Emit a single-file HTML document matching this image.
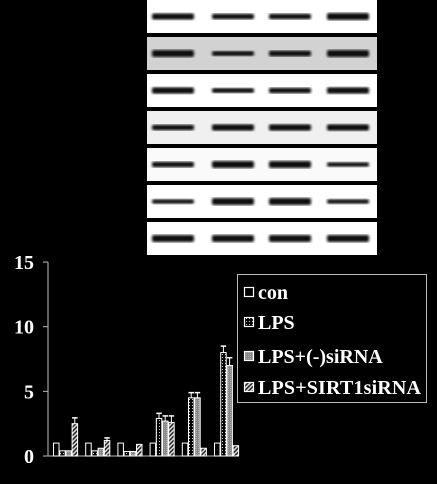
<!DOCTYPE html>
<html><head><meta charset="utf-8"><style>
html,body{margin:0;padding:0;background:#000;width:437px;height:484px;overflow:hidden}
svg{display:block}
text{font-family:"Liberation Serif",serif;font-weight:bold;fill:#fff}
</style></head><body>
<svg id="c" width="437" height="484" xmlns="http://www.w3.org/2000/svg">
<defs>
<pattern id="dots" width="3" height="3" patternUnits="userSpaceOnUse"><rect width="3" height="3" fill="#000"/><rect width="1" height="1" fill="#ccc"/></pattern>
<pattern id="grey" width="2" height="2" patternUnits="userSpaceOnUse"><rect width="2" height="2" fill="#888"/><rect width="1" height="1" fill="#aaa"/></pattern>
<pattern id="hatch" width="3" height="3" patternUnits="userSpaceOnUse" patternTransform="rotate(45)"><rect width="3" height="3" fill="#222"/><rect width="1.5" height="3" fill="#ddd"/></pattern>
<filter id="blur"><feGaussianBlur stdDeviation="1.2"/></filter>
</defs>
<g id="blots"></g>
<g id="chart"></g>
</svg>
<script>
const groups = ['g1','g2','g3','g4','g5','g6'];
const con = [1,1,1,1,1,1];
const lps = [0.4,0.4,0.35,2.9,4.5,8.0];
const negsi = [0.4,0.6,0.35,2.7,4.5,7.0];
const sirtsi = [2.5,1.2,0.9,2.6,0.6,0.8];
const lpsErr = [0,0,0,0.4,0.4,0.5];
const negErr = [0,0,0,0.4,0.4,0.6];
const sirtErr = [0.45,0.2,0,0.5,0,0];
const yTicks = [0,5,10,15];
const seriesNames = ['con','LPS','LPS+(-)siRNA','LPS+SIRT1siRNA'];
const blotBands = [[0.8,0.6,0.6,1],[1,0.5,0.7,1],[0.9,0.5,0.6,0.9],[0.6,0.9,0.9,0.9],[0.6,1,1,0.4],[0.35,1,1,0.35],[1,1,1,1]];
const blotBg = ['#fff','#d2d2d2','#fff','#f0f0f0','#fafafa','#fff','#fff'];

const NS='http://www.w3.org/2000/svg';
function mk(tag,attrs,parent){const e=document.createElementNS(NS,tag);for(const k in attrs)e.setAttribute(k,attrs[k]);parent.appendChild(e);return e;}

const B=document.getElementById('blots');
const panelTops=[0,37,74,111,148,185,222];
const laneX=[173,233,290,348];
blotBands.forEach((row,i)=>{
  const top=panelTops[i]; const h=33;
  const p=mk('rect',{x:147,y:top,width:230,height:h,fill:blotBg[i]},B);
  
  
  row.forEach((v,j)=>{
    const bh=3+v*4;
    const b=mk('rect',{x:laneX[j]-21,y:top+h/2-bh/2,width:42,height:bh,rx:2,fill:'#111',filter:'url(#blur)'},B);
    
    
  });
});

const C=document.getElementById('chart');
const y0=456, ppu=12.93;
function ys(v){return y0-v*ppu;}
function xg(i){return 53+i*32.2;}
mk('line',{x1:48,y1:262,x2:48,y2:y0,stroke:'#bbb','stroke-width':1},C);
mk('line',{x1:43,y1:y0,x2:239,y2:y0,stroke:'#bbb','stroke-width':1},C);
yTicks.forEach(t=>{
  mk('line',{x1:43,y1:ys(t),x2:48,y2:ys(t),stroke:'#bbb'},C);
  const tx=mk('text',{x:34,y:ys(t)+7,'text-anchor':'end','font-size':20},C);
  tx.textContent=t;
  
  
});
const series=[con,lps,negsi,sirtsi];
const errs=[null,lpsErr,negErr,sirtErr];
const fills=['#000','url(#dots)','url(#grey)','url(#hatch)'];
groups.forEach((g,i)=>{
  series.forEach((s,k)=>{
    const x=xg(i)+k*6.2, v=s[i];
    const r=mk('rect',{x:x+0.5,y:ys(v),width:5.5,height:v*ppu,fill:fills[k],stroke:'#fff','stroke-width':1},C);
    
    
    if(errs[k]&&errs[k][i]>0){
      const te=v+errs[k][i];
      mk('line',{x1:x+3.2,y1:ys(v),x2:x+3.2,y2:ys(te),stroke:'#fff','stroke-width':1},C);
      mk('line',{x1:x+0.5,y1:ys(te),x2:x+6,y2:ys(te),stroke:'#fff','stroke-width':1.5},C);
    }
  });
});
const L=mk('g',{},C);


mk('rect',{x:237.5,y:274.5,width:189,height:128,fill:'#000',stroke:'#bbb','stroke-width':1},L);
const ly=[292,322,356,387];
seriesNames.forEach((n,k)=>{
  const sq=mk('rect',{x:244.5,y:ly[k]-4.5,width:9,height:9,fill:fills[k],stroke:'#fff','stroke-width':1.2},L);
  
  
  const t=mk('text',{x:258,y:ly[k]+7,'font-size':20,textLength:(k==3?163:null)},L);
  if(k!=3)t.removeAttribute('textLength');
  t.textContent=n;
  
  
});
</script>
</body></html>
